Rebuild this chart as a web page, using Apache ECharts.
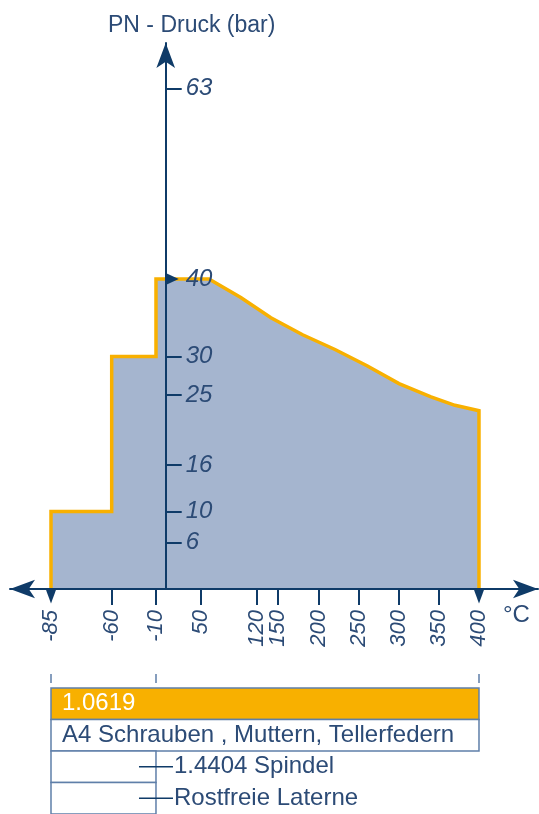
<!DOCTYPE html>
<html><head><meta charset="utf-8">
<script src="https://cdn.jsdelivr.net/npm/echarts@6/dist/echarts.min.js"></script>
<style>html,body{margin:0;padding:0;background:#fff}#c{width:539px;height:814px}</style>
</head><body><div id="c"></div>
<script>
// ---- data ----
const xTickTemps = [-85, -60, -10, 50, 120, 150, 200, 250, 300, 350, 400];
const yTickValues = [6, 10, 16, 25, 30, 40, 63];
const limitTemps = [-85, -85, -60, -60, -10, -10, 60, 100, 140, 180, 220, 260, 300, 340, 370, 400, 400];
const limitPressure = [0, 10, 10, 30, 30, 40, 40, 37.6, 35.0, 32.8, 30.9, 28.8, 26.5, 24.8, 23.7, 23.0, 0];
const tableLabels = ['1.0619', 'A4 Schrauben , Muttern, Tellerfedern', '1.4404 Spindel', 'Rostfreie Laterne'];
const tableFrom = [-85, -85, -85, -85];
const tableTo = [400, 400, -10, -10];
const tableMark = [null, null, -10, -10];

// ---- schematic axis rulers (the drawn axes are not linear) ----
const xRulerTemps = [-85, -60, -10, 0, 50, 120, 150, 200, 250, 300, 350, 400];
const xRulerUnits = [-142.7, -67.2, -12.1, 0, 43.9, 113.2, 139.7, 190.7, 240.4, 290.2, 339.9, 389.7];
const yRulerValues = [0, 40, 63];
const yRulerUnits = [0, 40, 64.6];

function interp(v, from, to) {
  let i = 0;
  while (i < from.length - 2 && v > from[i + 1]) i++;
  const t = (v - from[i]) / (from[i + 1] - from[i]);
  return to[i] + t * (to[i + 1] - to[i]);
}
const toX = t => interp(t, xRulerTemps, xRulerUnits);
const toY = p => interp(p, yRulerValues, yRulerUnits);
function labelFor(v, values, conv) {
  let best = values[0], bd = Infinity;
  values.forEach(x => { const d = Math.abs(conv(x) - v); if (d < bd) { bd = d; best = x; } });
  return String(best);
}

const axisColor = '#0f3b68';
const textColor = '#2c4b76';
const fillColor = '#a5b5cf';
const orange = '#f8b000';
const borderColor = '#5f7fa9';
const font = '"Liberation Sans", Arial, sans-serif';

const X_MIN = -193.7, X_MAX = 463.1;
const GRID_LEFT = 10, GRID_RIGHT = 1;
// y axis sits at 0 °C on the schematic x scale
const yAxisShift = -(0 - X_MIN) / (X_MAX - X_MIN) * (539 - GRID_LEFT - GRID_RIGHT);

const chart = echarts.init(document.getElementById('c'), null, {renderer: 'canvas'});
chart.setOption({
  animation: false,
  backgroundColor: '#fff',
  grid: [
    {left: GRID_LEFT, right: GRID_RIGHT, top: 43, bottom: 225},
    {left: GRID_LEFT, right: GRID_RIGHT, top: 688, height: 132}
  ],
  xAxis: [{
    type: 'value', gridIndex: 0, min: X_MIN, max: X_MAX, z: 5,
    name: '°C', nameLocation: 'end', nameGap: -35, nameMoveOverlap: false,
    nameTextStyle: {fontSize: 24, color: textColor, fontFamily: font, align: 'left', verticalAlign: 'top', padding: [14, 0, 0, 0]},
    axisLine: {show: true, onZero: false, lineStyle: {color: axisColor, width: 2}, symbol: ['arrow', 'arrow'], symbolSize: [14, 25]},
    axisTick: {show: true, inside: false, length: 16, customValues: xTickTemps.filter(t => t !== -85 && t !== 400).map(toX), lineStyle: {color: axisColor, width: 2}},
    axisLabel: {rotate: 90, margin: 21, customValues: xTickTemps.map(toX), formatter: v => labelFor(v, xTickTemps, toX), fontSize: 22, fontStyle: 'italic', color: textColor, fontFamily: font},
    splitLine: {show: false}
  }, {
    type: 'value', gridIndex: 1, min: X_MIN, max: X_MAX, position: 'top', offset: 5,
    axisLine: {show: false},
    axisTick: {show: true, length: 9, customValues: [-85, -10, 400].map(toX), lineStyle: {color: borderColor, width: 1.5}},
    axisLabel: {show: false}, splitLine: {show: false}
  }],
  yAxis: [{
    type: 'value', gridIndex: 0, min: 0, max: 70.45, z: 5, position: 'left', offset: yAxisShift,
    name: 'PN - Druck (bar)', nameLocation: 'end', nameGap: 17, nameMoveOverlap: false,
    nameTextStyle: {fontSize: 23, color: textColor, fontFamily: font, align: 'center', verticalAlign: 'middle', padding: [0, 0, 0, 52]},
    axisLine: {show: true, onZero: false, lineStyle: {color: axisColor, width: 2}, symbol: ['none', 'arrow'], symbolSize: [14, 25]},
    axisTick: {show: true, inside: true, length: 16, customValues: yTickValues.filter(v => v !== 40).map(toY), lineStyle: {color: axisColor, width: 2}},
    axisLabel: {inside: true, margin: 20, customValues: yTickValues.map(toY), formatter: v => labelFor(v, yTickValues, toY), fontSize: 24, fontStyle: 'italic', color: textColor, fontFamily: font},
    splitLine: {show: false}
  }, {
    type: 'category', gridIndex: 1, inverse: true, data: tableLabels, show: false
  }],
  series: [{
    type: 'line', xAxisIndex: 0, yAxisIndex: 0, z: 2,
    data: limitTemps.map((t, i) => [toX(t), toY(limitPressure[i])]),
    symbol: 'none', lineStyle: {color: orange, width: 3.5, join: 'miter'},
    areaStyle: {color: fillColor, opacity: 1}
  }, {
    type: 'scatter', xAxisIndex: 0, yAxisIndex: 0, z: 6, symbol: 'triangle',
    itemStyle: {color: axisColor, opacity: 1},
    data: [
      {value: [toX(-85), 0], symbolRotate: 180, symbolOffset: [0, 7], symbolSize: [11, 15]},
      {value: [toX(400), 0], symbolRotate: 180, symbolOffset: [0, 7], symbolSize: [11, 15]},
      {value: [toX(0), toY(40)], symbolRotate: -90, symbolOffset: [6.5, 0], symbolSize: [12, 13]}
    ]
  }, {
    type: 'custom', xAxisIndex: 1, yAxisIndex: 1, z: 3,
    data: tableLabels.map((l, i) => [i]),
    renderItem: function (params, api) {
      const i = api.value(0);
      const yc = api.coord([0, i])[1];
      const h = api.size([0, 1])[1];
      const x0 = api.coord([toX(tableFrom[i]), i])[0];
      const x1 = api.coord([toX(tableTo[i]), i])[0];
      const children = [{
        type: 'rect', shape: {x: x0, y: yc - h / 2, width: x1 - x0, height: h},
        style: {fill: i === 0 ? orange : '#fff', stroke: borderColor, lineWidth: 1.5}
      }];
      let tx = x0 + 11;
      if (tableMark[i] != null) {
        const xm = api.coord([toX(tableMark[i]), i])[0];
        children.push({type: 'line', shape: {x1: xm - 17, y1: yc, x2: xm + 17, y2: yc}, style: {stroke: axisColor, lineWidth: 1.5}});
        tx = xm + 18;
      }
      children.push({type: 'text', style: {text: tableLabels[i], x: tx, y: yc, verticalAlign: 'middle', align: 'left', fill: i === 0 ? '#fff' : textColor, font: '24px ' + font}});
      return {type: 'group', children: children};
    }
  }]
});
</script></body></html>
